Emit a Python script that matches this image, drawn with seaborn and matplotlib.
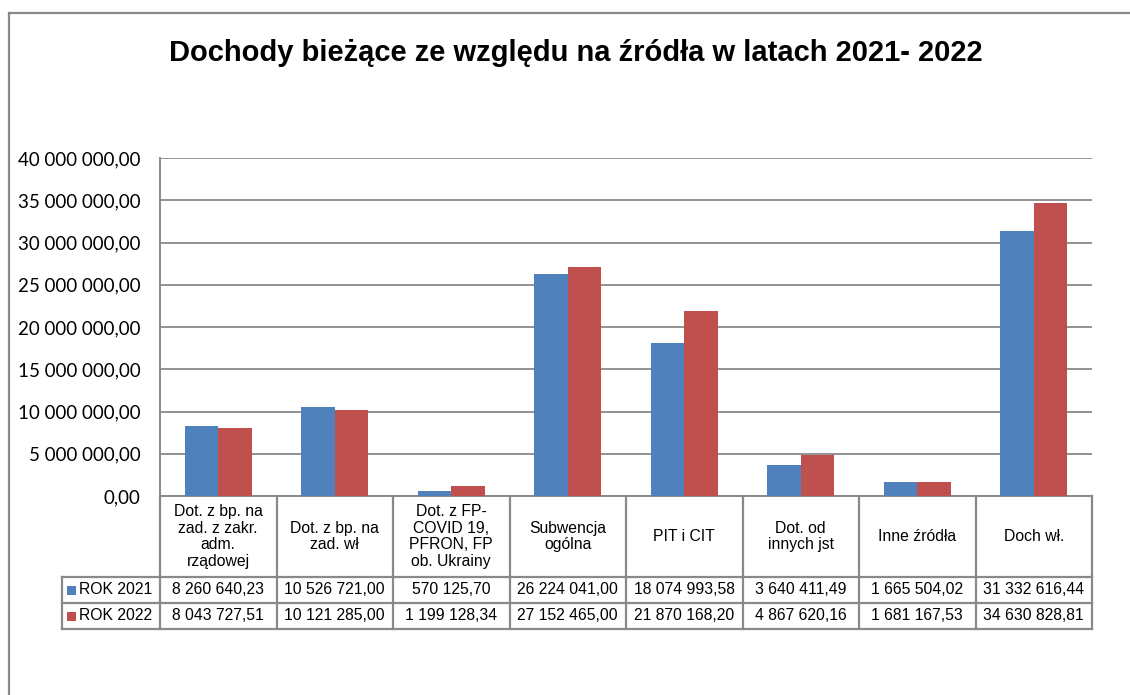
import matplotlib
matplotlib.use("Agg")
import matplotlib.pyplot as plt
import matplotlib.transforms as mtransforms
from matplotlib.patches import Rectangle
from matplotlib.lines import Line2D
import seaborn as sns
import pandas as pd

# ---------------- data ----------------
categories = [
    "Dot. z bp. na\nzad. z zakr.\nadm.\nrządowej",
    "Dot. z bp. na\nzad. wł",
    "Dot. z FP-\nCOVID 19,\nPFRON, FP\nob. Ukrainy",
    "Subwencja\nogólna",
    "PIT i CIT",
    "Dot. od\ninnych jst",
    "Inne źródła",
    "Doch wł.",
]
series_names = ["ROK 2021", "ROK 2022"]
values_2021 = [8260640.23, 10526721.00, 570125.70, 26224041.00,
               18074993.58, 3640411.49, 1665504.02, 31332616.44]
values_2022 = [8043727.51, 10121285.00, 1199128.34, 27152465.00,
               21870168.20, 4867620.16, 1681167.53, 34630828.81]
y_ticks = [0, 5_000_000, 10_000_000, 15_000_000, 20_000_000,
           25_000_000, 30_000_000, 35_000_000, 40_000_000]
title = "Dochody bieżące ze względu na źródła w latach 2021- 2022"

colors = ["#4F81BD", "#C0504D"]
GRAY = "#898989"


def fmt(v):
    s = f"{v:,.2f}"
    return s.replace(",", " ").replace(".", ",")


df = pd.DataFrame({
    "cat": categories * 2,
    "year": [series_names[0]] * len(categories) + [series_names[1]] * len(categories),
    "val": values_2021 + values_2022,
})

W, H = 1130, 695
fig = plt.figure(figsize=(W / 100, H / 100), dpi=100)
fig.patch.set_facecolor("white")

# plot area in pixels
PL, PR, PT, PB = 160, 1092, 158, 496
ax = fig.add_axes([PL / W, 1 - PB / H, (PR - PL) / W, (PB - PT) / H])

sns.barplot(data=df, x="cat", y="val", hue="year", order=categories,
            hue_order=series_names, palette=colors, width=0.572, gap=0,
            saturation=1, errorbar=None, legend=False, ax=ax, zorder=3)

ax.set_xlim(-0.5, len(categories) - 0.5)
ax.set_ylim(0, 40_000_000)
ax.set_yticks(y_ticks)
ax.set_yticklabels([fmt(t) for t in y_ticks], fontfamily="Lato", fontsize=13.5)
ax.set_xticks([])
ax.set_xlabel("")
ax.set_ylabel("")
ax.tick_params(axis="y", length=0, pad=14, colors="black")
ax.grid(axis="y", color=GRAY, linewidth=1.3, zorder=0)
ax.grid(axis="x", visible=False)
ax.set_axisbelow(True)
ax.set_facecolor("white")
for s in ["top", "right"]:
    ax.spines[s].set_visible(False)
for s in ["left", "bottom"]:
    ax.spines[s].set_color(GRAY)
    ax.spines[s].set_linewidth(1.4)

# ---------------- data table ----------------
tr = mtransforms.blended_transform_factory(ax.transData, fig.transFigure)


def fy(py):
    return 1 - py / H


def fx(px):
    return px / W


ROW_HDR_BOTTOM = 577
ROW1_BOTTOM = 603
ROW2_BOTTOM = 629
LEG_LEFT = 62
TBL_FONT = dict(family="Liberation Sans", fontsize=11.3, color="black")

# vertical lines at category boundaries
for i in range(len(categories) + 1):
    x = i - 0.5
    fig.add_artist(Line2D([x, x], [fy(PB), fy(ROW2_BOTTOM)], transform=tr,
                          color=GRAY, lw=1.6, clip_on=False))
# horizontal lines
for yb in [ROW_HDR_BOTTOM, ROW1_BOTTOM, ROW2_BOTTOM]:
    fig.add_artist(Line2D([fx(LEG_LEFT), fx(PL)], [fy(yb)] * 2,
                          transform=fig.transFigure, color=GRAY, lw=1.6))
    fig.add_artist(Line2D([-0.5, len(categories) - 0.5], [fy(yb)] * 2,
                          transform=tr, color=GRAY, lw=1.6))
fig.add_artist(Line2D([fx(LEG_LEFT)] * 2, [fy(ROW_HDR_BOTTOM), fy(ROW2_BOTTOM)],
                      transform=fig.transFigure, color=GRAY, lw=1.6))

# header texts
for i, c in enumerate(categories):
    fig.text(i, fy((PB + ROW_HDR_BOTTOM) / 2), c, transform=tr, ha="center",
             va="center", linespacing=1.14, **TBL_FONT)

# values
rows = [(values_2021, ROW_HDR_BOTTOM, ROW1_BOTTOM),
        (values_2022, ROW1_BOTTOM, ROW2_BOTTOM)]
for (vals, top, bot), name, col in zip(rows, series_names, colors):
    yc = fy((top + bot) / 2)
    for i, v in enumerate(vals):
        fig.text(i, yc, fmt(v), transform=tr, ha="center", va="center", **TBL_FONT)
    # legend key + label
    fig.add_artist(Rectangle((fx(67), fy((top + bot) / 2 + 4.5)), 9 / W, 9 / H,
                             transform=fig.transFigure, facecolor=col,
                             edgecolor="none"))
    fig.text(fx(79), yc, name, ha="left", va="center", **TBL_FONT)

# ---------------- title and chart border ----------------
fig.text(576 / W, fy(53), title, ha="center", va="center",
         family="Liberation Sans", fontweight="bold", fontsize=21, color="black")

fig.add_artist(Line2D([fx(9), fx(9)], [fy(13), 0], transform=fig.transFigure,
                      color=GRAY, lw=1.6))
fig.add_artist(Line2D([fx(9), 1], [fy(13), fy(13)], transform=fig.transFigure,
                      color=GRAY, lw=1.6))

fig.savefig("out.png", dpi=100, facecolor="white")
